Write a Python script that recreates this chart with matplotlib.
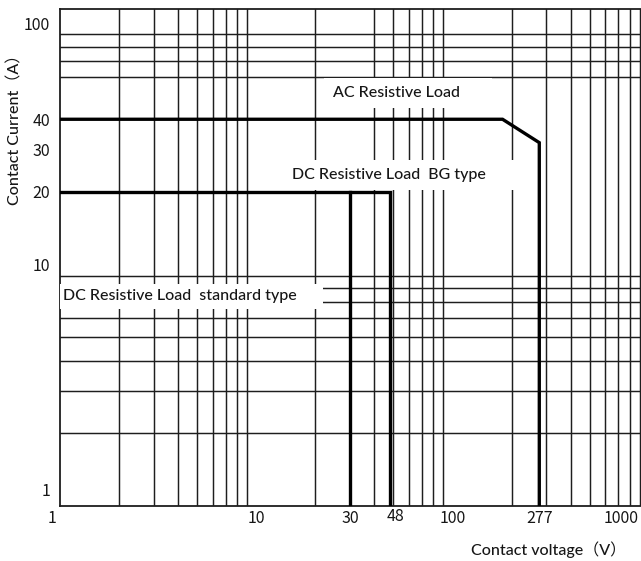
import matplotlib
matplotlib.use('Agg')
import matplotlib.pyplot as plt
from matplotlib.transforms import ScaledTranslation

# load curves: contact voltage (V) vs contact current (A)
ac_v = [1, 180, 277, 277]
ac_a = [40, 40, 32, 1]
dc_bg_v = [1, 48, 48]
dc_bg_a = [20, 20, 1]
dc_std_v = [30, 30]
dc_std_a = [20, 1]

x_ticks = [1, 10, 30, 48, 100, 277, 1000]
y_ticks = [1, 10, 20, 30, 40, 100]

# grid lines as drawn on the sheet
x_grid = [2, 3, 4, 5, 6, 7, 8, 9, 10,
          20, 30, 40, 50, 60, 70, 80, 90, 100,
          200, 300, 400, 500, 600, 700, 800, 900]
y_grid = [2, 3, 4, 5, 6, 7, 8, 9, 10,
          20, 30, 40, 60, 70, 80, 90, 100]

LABEL_FONT = ['Lato', 'Noto Sans CJK SC', 'DejaVu Sans']
TICK_FONT = ['Noto Sans CJK SC', 'DejaVu Sans']
INK = '#161616'

fig = plt.figure(figsize=(6.41, 5.61), dpi=100)
ax = fig.add_axes([60 / 641, 55 / 561, 588.7 / 641, 497 / 561])
ax.set_xscale('log')
ax.set_yscale('log')
ax.set_xlim(1, 1000)
ax.set_ylim(1, 114.5)

ax.set_xticks(x_ticks)
ax.set_xticklabels([str(v) for v in x_ticks], fontfamily=TICK_FONT, fontsize=11.5,
                   fontweight='medium', color=INK)
ax.set_yticks(y_ticks)
ax.set_yticklabels([str(v) for v in y_ticks], fontfamily=TICK_FONT, fontsize=11.5,
                   fontweight='medium', color=INK)
ax.set_xticks(x_grid, minor=True)
ax.set_yticks(y_grid, minor=True)
ax.set_xticklabels([], minor=True)
ax.set_yticklabels([], minor=True)
ax.tick_params(which='both', length=0)
ax.tick_params(axis='x', pad=3)
ax.tick_params(axis='y', pad=7)

ax.grid(True, which='minor', color='#1e1e1e', linewidth=1.05, zorder=1)
ax.grid(False, which='major')
ax.set_axisbelow(True)
for side in ['left', 'bottom', 'top']:
    ax.spines[side].set_color('#1e1e1e')
    ax.spines[side].set_linewidth(1.3)

# nudge a few tick labels the way the sheet has them
def nudge(lab, dx, dy):
    lab.set_transform(lab.get_transform() + ScaledTranslation(dx / 100, dy / 100, fig.dpi_scale_trans))

xl = ax.get_xticklabels()
yl = ax.get_yticklabels()
nudge(xl[0], -8, 0)
nudge(xl[3], 6, 2)
nudge(xl[-1], -28, 0)
nudge(yl[0], 0, 17)

ax.plot(ac_v, ac_a, color='black', linewidth=2.4, zorder=4, solid_joinstyle='miter')
ax.plot(dc_bg_v, dc_bg_a, color='black', linewidth=2.4, zorder=4, solid_joinstyle='miter')
ax.plot(dc_std_v, dc_std_a, color='black', linewidth=2.4, zorder=4)

box = dict(facecolor='white', edgecolor='none', pad=6)
ax.text(24.5, 51.4, 'AC Resistive Load      ', ha='left', va='center', fontsize=11.5,
        family=LABEL_FONT, fontweight='medium', color=INK, bbox=box, zorder=3)
ax.text(15.2, 23.5, 'DC Resistive Load  BG type     ', ha='left', va='center', fontsize=11.5,
        family=LABEL_FONT, fontweight='medium', color=INK, bbox=box, zorder=3)
ax.text(1.04, 7.4, 'DC Resistive Load  standard type     ', ha='left', va='center', fontsize=11.5,
        family=LABEL_FONT, fontweight='medium', color=INK,
        bbox=dict(facecolor='white', edgecolor='none', pad=4), zorder=3, clip_on=True)

fig.text(15 / 641, 1 - 126 / 561, 'Contact Current（A）', rotation=90, ha='center', va='center',
         fontsize=11.5, family=LABEL_FONT, fontweight='medium', color=INK)
fig.text(549 / 641, 1 - 550 / 561, 'Contact voltage（V）', ha='center', va='center',
         fontsize=11.5, family=LABEL_FONT, fontweight='medium', color=INK)

fig.savefig('out.png', dpi=100)
